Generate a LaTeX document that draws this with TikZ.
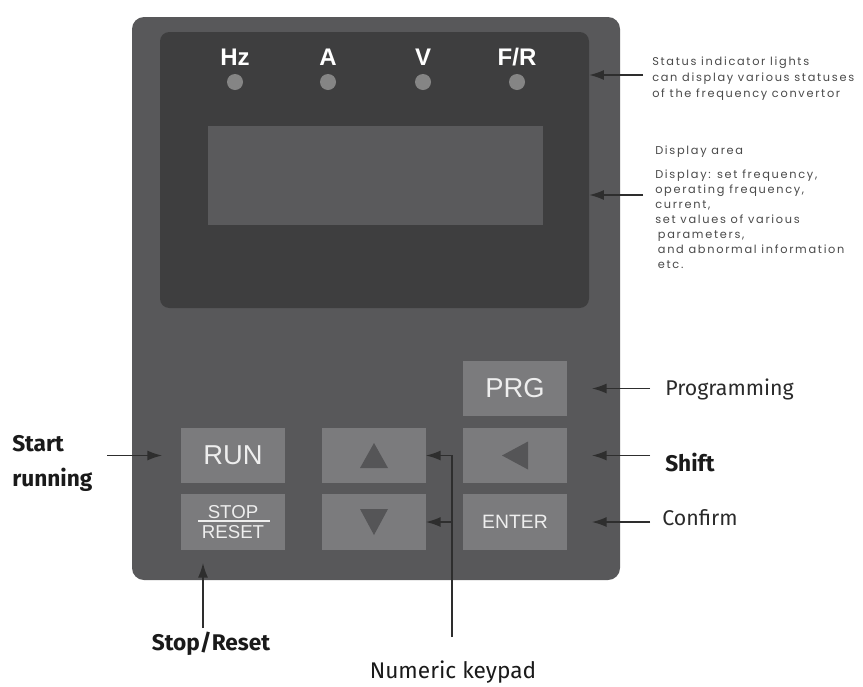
\documentclass[tikz,border=0pt]{standalone}
\usepackage{fontspec}
\setmainfont{Liberation Sans}
\newfontfamily\annfont[LetterSpace=15]{Poppins}
\newfontfamily\lblfont{Fira Sans}
\usetikzlibrary{arrows.meta,calc}
\definecolor{panelc}{HTML}{58585A}
\definecolor{innerc}{HTML}{3E3E3F}
\definecolor{lcdc}{HTML}{5A5A5C}
\definecolor{keyc}{HTML}{7B7B7D}
\definecolor{keytxt}{HTML}{EEEEEE}
\definecolor{trianc}{HTML}{555557}
\definecolor{ledc}{HTML}{858585}
\definecolor{arrc}{HTML}{2E2E2E}
\definecolor{anntext}{HTML}{4A4A4A}
\definecolor{lbltxt}{HTML}{1A1A1A}
\definecolor{lbltxtb}{HTML}{2A2A2A}
\begin{document}
\begin{tikzpicture}[x=0.75pt,y=-0.75pt,
  key/.style={rectangle, fill=keyc, inner sep=0pt, minimum width=77.5pt, minimum height=41.5pt, text=keytxt, font=\fontsize{20.5}{20}\selectfont},
  led/.style={circle, fill=ledc, inner sep=0pt, minimum size=12pt},
  ledlbl/.style={text=white, font=\bfseries\fontsize{18}{18}\selectfont, inner sep=0pt},
  arr/.style={draw=arrc, line width=1.1pt, -{Latex[length=11pt,width=7.5pt]}},
  ann/.style={text=anntext, font=\annfont\fontsize{8.5}{11.25}\selectfont, align=left, inner sep=0pt},
  lbl/.style={text=lbltxt, font=\lblfont\bfseries\fontsize{17}{26}\selectfont, inner sep=0pt},
  lblr/.style={text=lbltxtb, font=\lblfont\fontsize{16}{18}\selectfont, inner sep=0pt}
]
\fill[white] (0,0) rectangle (863,686);
\useasboundingbox (0,0) rectangle (863,686);

% panel
\node[fill=panelc, rounded corners=9pt, inner sep=0pt, minimum width=366pt, minimum height=422.25pt] (panel) at (376,298.5) {};
\node[fill=innerc, rounded corners=7pt, inner sep=0pt, minimum width=321.75pt, minimum height=207pt] (inner) at (374.5,170) {};
\node[fill=lcdc, inner sep=0pt, minimum width=251.25pt, minimum height=74.25pt] (lcd) at (375.5,175.5) {};

% status lights
\node[ledlbl] (hzt) at (235,57) {Hz};
\node[ledlbl] (at) at (328,57) {A};
\node[ledlbl] (vt) at (423,57) {V};
\node[ledlbl] (frt) at (517,57) {F/R};
\node[led] (hz) at (235,82) {};
\node[led] (a) at (328,82) {};
\node[led] (v) at (423,82) {};
\node[led] (fr) at (517,82) {};

% keys
\node[key] (prg) at (515,388.5) {PRG};
\node[key] (run) at (233,455.5) {RUN};
\node[key] (up) at (374,455.5) {};
\node[key] (shiftk) at (515,455.5) {};
\node[key, align=center, font=\fontsize{14}{15}\selectfont] (stop) at (233,522) {STOP\\RESET};
\node[key] (down) at (374,522) {};
\node[key, font=\fontsize{14.5}{15}\selectfont] (enter) at (515,522) {ENTER};
\draw[keytxt, line width=0.8pt] ($(stop.center)+(-35,-1)$) -- ($(stop.center)+(37,-1)$);
\fill[trianc] ($(up.center)+(-14,12.5)$) -- ($(up.center)+(14,12.5)$) -- ($(up.center)+(0,-12.5)$) -- cycle;
\fill[trianc] ($(down.center)+(-14,-13)$) -- ($(down.center)+(14,-13)$) -- ($(down.center)+(0,13)$) -- cycle;
\fill[trianc] ($(shiftk.center)+(-13,0)$) -- ($(shiftk.center)+(13,-14)$) -- ($(shiftk.center)+(13,14)$) -- cycle;

% right annotations
\node[ann, font=\annfont\fontsize{8.5}{12}\selectfont, anchor=north west] (status) at (652,57) {Status indicator lights\\can display various statuses\\of the frequency convertor};
\coordinate (stS) at (643,75);
\draw[arr] (stS) -- (stS -| inner.east);

\node[ann, anchor=west] (darea) at (655,152) {Display area};
\node[ann, anchor=north west] (dtext) at (655,170) {Display: set frequency,\\operating frequency,\\current,\\set values of various\\\hspace*{2pt}parameters,\\\hspace*{2pt}and abnormal information\\\hspace*{2pt}etc.};
\coordinate (dS) at (643,195);
\draw[arr] (dS) -- (dS -| inner.east);

\node[lblr, anchor=west] (prgL) at (665,389) {Programming};
\draw[arr, shorten <=11.25pt, shorten >=18.75pt] (prgL.west |- prg.east) -- (prg.east);

\node[lbl, anchor=west] (shL) at (665,462) {Shift};
\draw[arr, shorten <=11.25pt, shorten >=18.75pt] (shL.west |- shiftk.east) -- (shiftk.east);

\node[lblr, anchor=west] (cfL) at (662,518) {Confirm};
\draw[arr, shorten <=9pt, shorten >=18.75pt] (cfL.west |- enter.east) -- (enter.east);

% left / bottom annotations
\node[lbl, align=left, anchor=north west] (startL) at (12,435) {Start\\running};
\coordinate (runS) at (107,455.5);
\draw[arr, shorten >=14.25pt] (runS) -- (run.west);

\node[lbl] (stopL) at (211,644) {Stop/Reset};
\coordinate (srB) at (203,628);
\draw[arr, shorten >=9.75pt] (srB) -- (srB |- stop.south);

\node[lbl, font=\lblfont\fontsize{17}{20}\selectfont] (numL) at (453,672) {Numeric keypad};
\coordinate (nkB) at (452,637);
\draw[arr] (nkB) |- (up.east);
\draw[arr] (nkB |- down.east) -- (down.east);
\end{tikzpicture}
\end{document}
